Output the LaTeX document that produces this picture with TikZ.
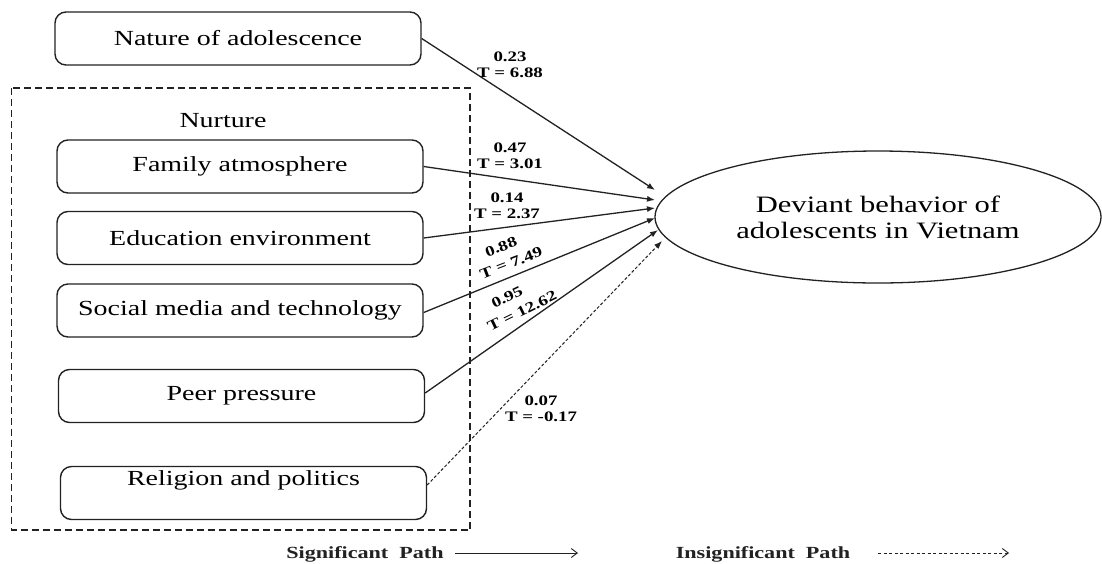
\documentclass[tikz,border=0pt]{standalone}
\usepackage{fontspec}
\setmainfont[FakeStretch=1.3]{Liberation Serif}
\usetikzlibrary{shapes.geometric,arrows.meta}
\definecolor{ink}{HTML}{222222}
\begin{document}
\begin{tikzpicture}[x=1pt,y=-1pt,
  box/.style={draw=ink, line width=1.4pt, rounded corners=11pt, minimum width=366pt,
    minimum height=53pt, inner sep=0pt, text=black, font=\fontsize{21.5}{24}\selectfont},
  boxtext/.style={inner sep=0pt, text=black, font=\fontsize{21.5}{24}\selectfont},
  lab/.style={font=\bfseries\fontsize{14.5}{16}\selectfont, align=center, inner sep=0pt, text=black},
  conn/.style={draw=ink, line width=1.3pt, -{Latex[length=8pt,width=6pt]}},
  dconn/.style={conn, dash pattern=on 3pt off 2pt, line width=1pt},
  legtext/.style={anchor=base, inner sep=0pt, text=ink, font=\bfseries\fontsize{17}{20}\selectfont},
  legarr/.style={draw=ink, line width=0.9pt, -{Straight Barb[length=6pt,width=9pt]}}
]
\useasboundingbox (0,0) rectangle (1102,563);
\fill[white] (0,0) rectangle (1102,563);

% Nurture frame
\draw[ink, line width=1.3pt, dash pattern=on 7pt off 4pt] (11.5,88) rectangle (470,530);
\node[boxtext] (nurt) at (223,121) {Nurture};

% Boxes
\node[box] (nat) at (238,38.5) {Nature of adolescence};
\node[box] (fam) at (240,166.5) {Family atmosphere};
\node[box] (edu) at (240,238) {Education environment};
\node[box] (soc) at (240,310.5) {Social media and technology};
\node[box] (peer) at (241.5,396) {Peer pressure};
\node[box] (rel) at (243.5,493) {};
\node[boxtext] (reltxt) at (243.5,480) {Religion and politics};

% Outcome
\node[ellipse, draw=ink, line width=1.3pt, minimum width=446pt, minimum height=132pt,
  inner sep=0pt, align=center, text=black, font=\fontsize{23.5}{26}\selectfont]
  (dev) at (878,217) {Deviant behavior of\\adolescents in Vietnam};

% Arrow tips near the ellipse
\coordinate (t1) at (655,190);
\coordinate (t2) at (655,200);
\coordinate (t3) at (655,208);
\coordinate (t4) at (655,218);
\coordinate (t5) at (658,230);
\coordinate (t6) at (662,241);

\draw[conn] (nat.east) -- (t1);
\draw[conn] (fam.east) -- (t2);
\draw[conn] (edu.east) -- (t3);
\draw[conn] ([yshift=-2pt]soc.east) -- (t4);
\draw[conn] ([yshift=3pt]peer.east) -- (t5);
\draw[dconn] ([yshift=8pt]rel.east) -- (t6);

% Path labels
\node[lab] (l1) at (510,65) {0.23\\T = 6.88};
\node[lab] (l2) at (510,155.5) {0.47\\T = 3.01};
\node[lab] (l3) at (507,205.5) {0.14\\T = 2.37};
\node[lab, rotate=21] (l4a) at (501,247) {0.88};
\node[lab, rotate=21] (l4b) at (511,263) {T = 7.49};
\node[lab, rotate=26] (l5a) at (507,297) {0.95};
\node[lab, rotate=26] (l5b) at (522,311) {T = 12.62};
\node[lab] (l6) at (541,409) {0.07\\T = -0.17};

% Legend
\node[legtext] (sig) at (365,558) {Significant\ \ Path};
\coordinate (sa) at (455,553);
\coordinate (sb) at (578,553);
\draw[legarr] (sa) -- (sb);
\node[legtext] (insig) at (763,558) {Insignificant\ \ Path};
\coordinate (ia) at (878,553);
\coordinate (ib) at (1009,553);
\draw[legarr, dash pattern=on 3pt off 2.5pt] (ia) -- (ib);
\end{tikzpicture}
\end{document}
